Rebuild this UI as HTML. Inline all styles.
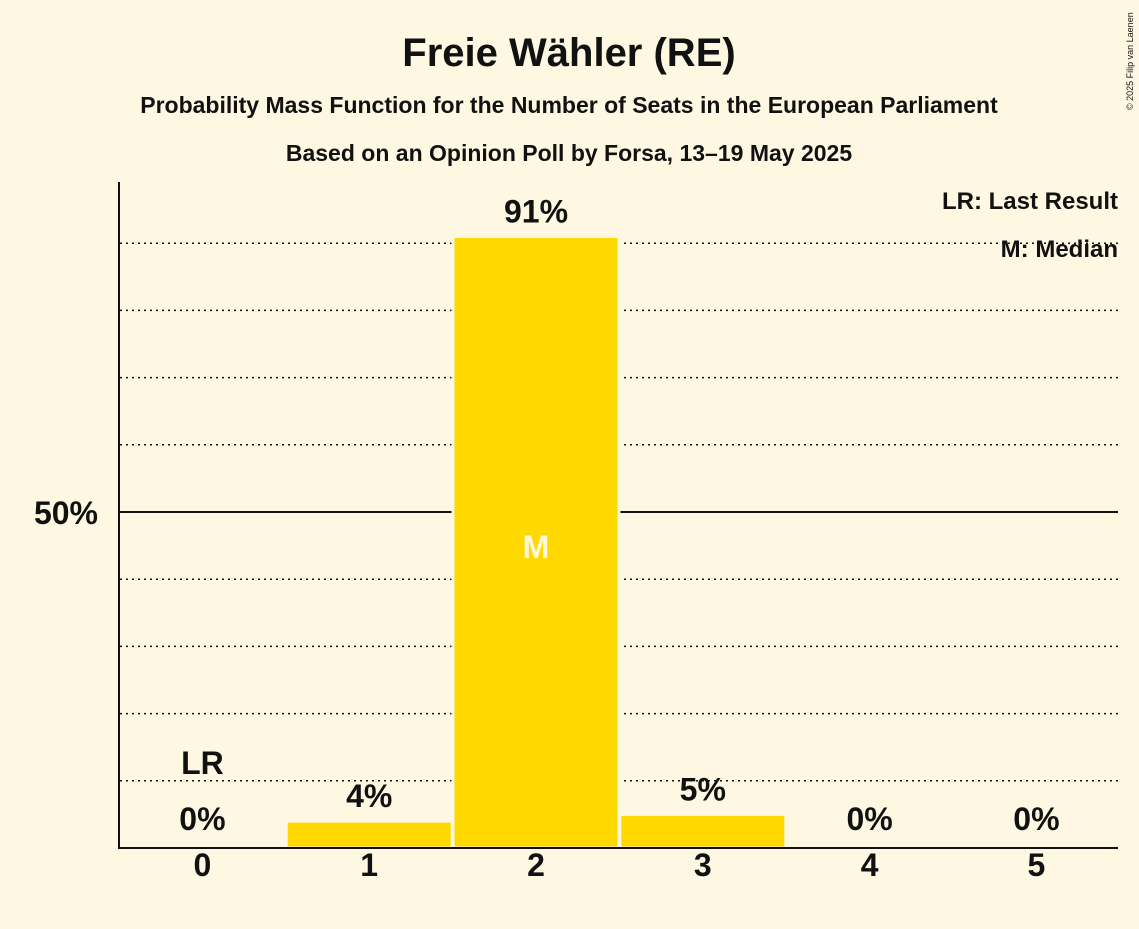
<!DOCTYPE html>
<html><head><meta charset="utf-8"><style>
body{margin:0;background:#fef8e3;}
svg text{font-family:"Liberation Sans",sans-serif;font-weight:bold;fill:#111;}
</style></head><body>
<svg width="1139" height="924" xmlns="http://www.w3.org/2000/svg">
<rect width="1139" height="924" fill="#fef8e3"/>
<text x="569" y="66" text-anchor="middle" font-size="40">Freie Wähler (RE)</text>
<text x="569" y="113" text-anchor="middle" font-size="23">Probability Mass Function for the Number of Seats in the European Parliament</text>
<text x="569" y="161" text-anchor="middle" font-size="23">Based on an Opinion Poll by Forsa, 13–19 May 2025</text>
<text x="1133" y="110" font-size="9" font-weight="normal" transform="rotate(-90 1133 110)" text-anchor="start" style="font-weight:normal">© 2025 Filip van Laenen</text>
<g id="grid"></g>
<g id="bars"></g>
<line x1="119" y1="182" x2="119" y2="849" stroke="#111" stroke-width="2"/>
<line x1="118" y1="848" x2="1118" y2="848" stroke="#111" stroke-width="2"/>
<text x="98" y="524" text-anchor="end" font-size="32">50%</text>
<text x="1118" y="209" text-anchor="end" font-size="24">LR: Last Result</text>
<text x="1118" y="257" text-anchor="end" font-size="24">M: Median</text>
<g id="labels"></g>
</svg>
<script>
const seats=[0,1,2,3,4,5];
const probs=[0,4,91,5,0,0];
const valueLabels=["0%","4%","91%","5%","0%","0%"];
const lastResult=0;
const median=2;
const NS="http://www.w3.org/2000/svg";
const x0=119,step=166.8,base=848,pxPerPct=6.72;
const xc=i=>x0+step*(i+0.5);
const y=v=>base-v*pxPerPct;
function mk(t,a){const e=document.createElementNS(NS,t);for(const k in a)e.setAttribute(k,a[k]);return e;}
const grid=document.getElementById('grid');
for(let p=10;p<=90;p+=10){
  const l=mk('line',{x1:120,x2:1118,y1:y(p),y2:y(p),stroke:'#111','stroke-width':p==50?2:1.5,'stroke-dasharray':p==50?'':'2,4'});
  
  
  grid.appendChild(l);
}
const bars=document.getElementById('bars'),labels=document.getElementById('labels');
seats.forEach((s,i)=>{
  if(probs[i]>0){
    const r=mk('rect',{x:xc(i)-83,y:y(probs[i]),width:166,height:base-y(probs[i]),fill:'#ffd800',stroke:'#fef8e3','stroke-width':3});
    
    
    bars.appendChild(r);
  }
  const ty=probs[i]>0?y(probs[i])-14:base-18;
  const t=mk('text',{x:xc(i),y:ty,'text-anchor':'middle','font-size':32});
  t.textContent=valueLabels[i];
  
  
  labels.appendChild(t);
  const xt=mk('text',{x:xc(i),y:876,'text-anchor':'middle','font-size':32});
  xt.textContent=s;
  
  
  labels.appendChild(xt);
  if(i===lastResult){
    const lr=mk('text',{x:xc(i),y:ty-56,'text-anchor':'middle','font-size':32});
    lr.textContent='LR';
    
    
    labels.appendChild(lr);
  }
  if(i===median){
    const m=mk('text',{x:xc(i),y:y(50)+46,'text-anchor':'middle','font-size':32});
    m.setAttribute('style','fill:#fff8dc');
    m.textContent='M';
    
    
    labels.appendChild(m);
  }
});
</script>
</body></html>
